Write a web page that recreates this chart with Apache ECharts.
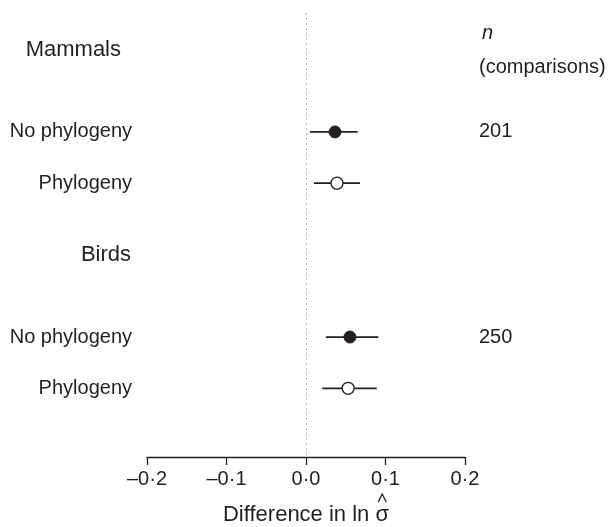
<!DOCTYPE html>
<html>
<head>
<meta charset="utf-8">
<script src="https://cdn.jsdelivr.net/npm/echarts@6/dist/echarts.min.js"></script>
<style>html,body{margin:0;padding:0;background:#fff}#c{width:608px;height:527px}</style>
</head>
<body>
<div id="c"></div>
<script>
// ---- data ----
const rowLabels = ['No phylogeny', 'Phylogeny', 'No phylogeny', 'Phylogeny'];
const rowPos = [8, 13, 28, 33];
const groupLabels = ['Mammals', 'Birds'];
const groupPos = [0, 20];
const means = [0.0365, 0.039, 0.0553, 0.053];
const lower = [0.005, 0.010, 0.025, 0.0205];
const upper = [0.065, 0.068, 0.091, 0.089];
const filled = [true, false, true, false];
const nValues = ['201', '250'];
const nPos = [8, 28];
const xTicks = [-0.2, -0.1, 0, 0.1, 0.2];

const FONT = 'Liberation Sans, Arial, sans-serif';
const TXT = '#231f20';
const TITLE_BASE = 'Difference in ln ';
const TITLE_SYM = '\u03c3';

const chart = echarts.init(document.getElementById('c'), null, {renderer: 'canvas'});

const errData = means.map((m, i) => [lower[i], upper[i], rowPos[i]]);
const fillPts = [], openPts = [];
means.forEach((m, i) => (filled[i] ? fillPts : openPts).push([m, rowPos[i]]));

const leftLabelData = rowLabels.map((t, i) => ({value: [-0.2, rowPos[i]], name: t}));
const groupLabelData = groupLabels.map((t, i) => ({
  value: [-0.2, groupPos[i]], name: t,
  label: {distance: i === 0 ? 26 : 16}
}));
const nData = nValues.map((t, i) => ({value: [0.2, nPos[i]], name: t}));

function fmtTick(v) {
  let s = v.toFixed(1);
  if (v < 0) s = '\u2013' + s.slice(1);
  return s.replace('.', '\u00b7');
}

const labelScatter = {type: 'scatter', symbolSize: 0, silent: true, itemStyle: {opacity: 1}};

chart.setOption({
  animation: false,
  grid: {left: 147, right: 143, top: 13, bottom: 70, containLabel: false, outerBoundsMode: 'none'},
  xAxis: {
    type: 'value', min: -0.2, max: 0.2, interval: 0.1,
    axisLine: {show: true, onZero: false, lineStyle: {color: '#231f20', width: 1.3}},
    axisTick: {show: true, length: 8, lineStyle: {color: '#231f20', width: 1.3}},
    axisLabel: {formatter: fmtTick, color: TXT, fontFamily: FONT, fontSize: 20, margin: 12},
    splitLine: {show: false},
    name: TITLE_BASE + TITLE_SYM, nameLocation: 'middle', nameGap: 47,
    nameTextStyle: {color: TXT, fontFamily: FONT, fontSize: 22}
  },
  yAxis: {
    type: 'value', inverse: true, min: -3.6, max: 39.7,
    show: false
  },
  series: [
    {
      type: 'custom',
      data: errData,
      renderItem: function (params, api) {
        const a = api.coord([api.value(0), api.value(2)]);
        const b = api.coord([api.value(1), api.value(2)]);
        return {type: 'line', shape: {x1: a[0], y1: a[1], x2: b[0], y2: b[1]},
          style: {stroke: '#231f20', lineWidth: 1.8}};
      },
      markLine: {
        silent: true, symbol: 'none', label: {show: false},
        lineStyle: {color: '#b0b0b0', type: [2, 3], width: 1},
        data: [{xAxis: 0}]
      },
      z: 2
    },
    {
      type: 'scatter', data: fillPts, symbol: 'circle', symbolSize: 12,
      itemStyle: {color: '#231f20', borderColor: '#231f20', borderWidth: 1, opacity: 1}, z: 3
    },
    {
      type: 'scatter', data: openPts, symbol: 'circle', symbolSize: 12,
      itemStyle: {color: '#ffffff', borderColor: '#231f20', borderWidth: 1.3, opacity: 1}, z: 3
    },
    Object.assign({}, labelScatter, {
      data: leftLabelData,
      label: {show: true, position: 'left', distance: 15, formatter: '{b}',
        color: TXT, fontFamily: FONT, fontSize: 20}
    }),
    Object.assign({}, labelScatter, {
      data: groupLabelData,
      label: {show: true, position: 'left', distance: 26, formatter: '{b}',
        color: TXT, fontFamily: FONT, fontSize: 22}
    }),
    Object.assign({}, labelScatter, {
      data: nData,
      label: {show: true, position: 'right', distance: 14, formatter: '{b}',
        color: TXT, fontFamily: FONT, fontSize: 20}
    })
  ]
});

// n header texts and the hat over sigma
const p1 = chart.convertToPixel({gridIndex: 0}, [0.2, -1.6]);
const p2 = chart.convertToPixel({gridIndex: 0}, [0.2, 1.7]);
const c0 = chart.convertToPixel({gridIndex: 0}, [0, 39.7]);
const ctx = document.createElement('canvas').getContext('2d');
ctx.font = '22px ' + FONT;
const wAll = ctx.measureText(TITLE_BASE + TITLE_SYM).width;
const wSym = ctx.measureText(TITLE_SYM).width;
const hatX = c0[0] + wAll / 2 - wSym / 2;
const hatY = c0[1] + 37;
chart.setOption({
  graphic: [
    {type: 'text', x: p1[0] + 17, y: p1[1], style: {text: 'n', font: 'italic 20px ' + FONT, fill: TXT, verticalAlign: 'middle'}},
    {type: 'text', x: p2[0] + 14, y: p2[1], style: {text: '(comparisons)', font: '20px ' + FONT, fill: TXT, verticalAlign: 'middle'}},
    {type: 'polyline', shape: {points: [[hatX - 4, hatY + 8], [hatX, hatY], [hatX + 4, hatY + 8]]},
      style: {stroke: TXT, lineWidth: 1.3, fill: null}}
  ]
});
</script>
</body>
</html>
